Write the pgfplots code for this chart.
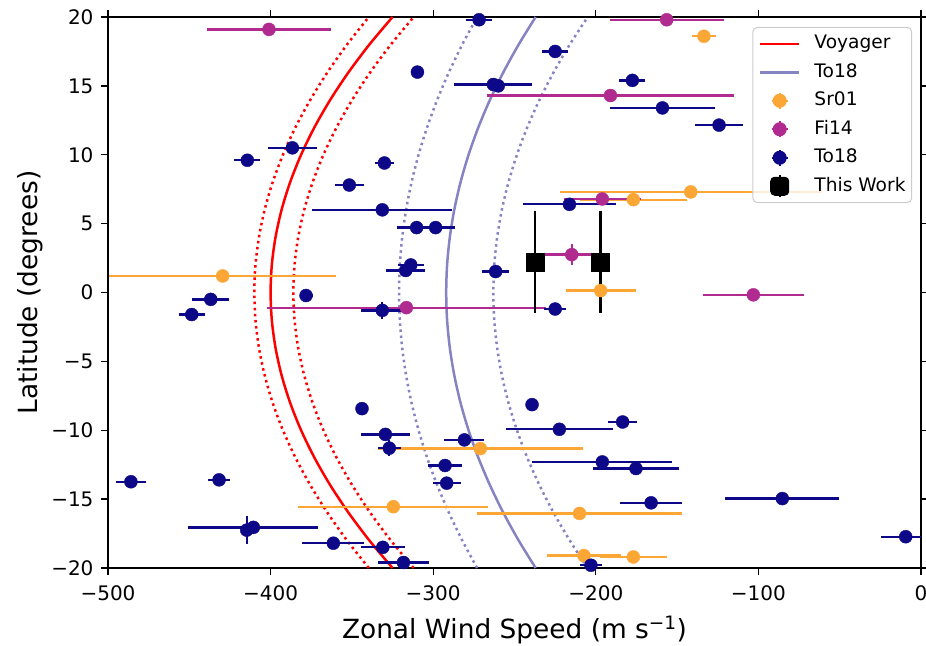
\documentclass[border=0pt]{standalone}
\usepackage{pgfplots}
\pgfplotsset{compat=1.18}
\usepackage{fontspec}
\setmainfont{DejaVu Sans}
\definecolor{cnavy}{HTML}{0D0887}
\definecolor{cmag}{HTML}{B12A90}
\definecolor{corg}{HTML}{FCA636}
\definecolor{clav}{HTML}{8683C3}

\pgfplotstableread{
x y ex ey
-133.5 18.6 7.5 0
-141.6 7.3 80.5 0
-176.9 6.74 33 0
-429.5 1.2 70 0
-197 0.14 21.5 0
-271 -11.33 63 0
-324.5 -15.55 58.5 0
-210 -16.04 63 0
-207.3 -19.1 23 0
-176.9 -19.2 20.5 0
}\srtab

\pgfplotstableread{
x y ex ey
-401 19.1 38 0
-156.4 19.8 35 0.4
-191 14.3 76 0
-196 6.79 23.5 0
-214.8 2.75 17.5 0.78
-103.1 -0.17 31 0
-316.5 -1.1 86 0
}\fitab

\pgfplotstableread{
x y ex ey
-271.8 19.8 8.2 0
-309.7 16.0 4 0.3
-263 15.1 24 0
-260 15.0 0 0
-225 17.5 8 0
-177.5 15.4 8 0
-159 13.4 32.5 0
-124.2 12.15 15 0
-386.6 10.5 15.3 0
-414.3 9.6 8 0
-330 9.4 6 0.3
-351.6 7.8 9 0
-331.3 6.0 43 0
-310.2 4.71 12 0
-298.5 4.71 12 0
-313.8 2.0 8 0
-316.9 1.6 12 0
-261.6 1.52 8.5 0.2
-216.2 6.4 28.5 0
-436.8 -0.5 11.5 0
-448.5 -1.6 8 0.3
-378.2 -0.22 4 0
-331.3 -1.3 13 0.6
-225 -1.2 6.7 0
-343.8 -8.43 0 0
-329.4 -10.3 15 0
-327 -11.3 7 0.6
-280.8 -10.7 12.3 0
-292.7 -12.56 10.5 0
-291.7 -13.84 8.7 0.4
-485.9 -13.74 9 0
-431.7 -13.6 7 0
-414.7 -17.25 3 1.0
-410.6 -17.05 40 0
-361.4 -18.2 19 0
-331 -18.5 13.5 0
-318.3 -19.6 15.7 0
-239.2 -8.14 0 0
-222.4 -9.93 33 0
-183.5 -9.4 9 0
-196 -12.3 43 0
-175.3 -12.78 26.6 0
-166 -15.27 19 0
-85.3 -14.96 35 0
-9.4 -17.73 15 0.4
-203 -19.8 7 0
}\totab

\pgfplotstableread{
x y ex ey
-237.4 2.2 0 3.7
-197 2.2 0 3.7
}\twtab

\pgfplotsset{
  lineleg/.style={legend image code/.code={\path[draw=none, fill=none] (0pt,-4pt) rectangle (39pt,4pt); \draw[##1] (0pt,0pt) -- (39pt,0pt);}},
  ptleg/.style={legend image code/.code={%
     \path[draw=none, fill=none] (0pt,-4pt) rectangle (39pt,4pt);
     \draw[overlay, #1, line width=2.2pt, draw opacity=1] (19.5pt,-8pt) -- (19.5pt,8pt) (11.5pt,0pt) -- (27.5pt,0pt);
     \fill[overlay, #1, fill opacity=1] (19.5pt,0pt) circle (6.5pt);}},
  sqleg/.style={legend image code/.code={%
     \path[draw=none, fill=none] (0pt,-4pt) rectangle (39pt,4pt);
     \draw[overlay, black, line width=2.2pt, draw opacity=1] (19.5pt,-11pt) -- (19.5pt,11pt);
     \fill[overlay, black, fill opacity=1] (10.5pt,-9pt) rectangle (28.5pt,9pt);}},
}

\begin{document}
\begin{tikzpicture}
\path[use as bounding box] (-108pt,-77pt) rectangle (818pt,568pt);
\begin{axis}[
 scale only axis, width=813pt, height=551pt,
 xmin=-500, xmax=0, ymin=-20, ymax=20,
 xtick={-500,-400,-300,-200,-100,0},
 xticklabels={−500,−400,−300,−200,−100,0},
 ytick={-20,-15,-10,-5,0,5,10,15,20},
 yticklabels={−20,−15,−10,−5,0,5,10,15,20},
 tick align=outside, major tick length=7pt,
 tick style={black, line width=1.3pt},
 axis line style={line width=1.3pt},
 tick label style={font=\fontsize{20}{24}\selectfont},
 xticklabel style={yshift=-7pt},
 yticklabel style={xshift=-4pt},
 label style={font=\fontsize{26.4}{30}\selectfont},
 xlabel={Zonal Wind Speed (m s\textsuperscript{−1})},
 ylabel={Latitude (degrees)},
 xlabel style={at={(axis description cs:0.5,-0.1125)}, anchor=center},
 ylabel style={at={(axis description cs:-0.0959,0.5)}, anchor=center},
 legend cell align=left,
 legend style={at={(axis description cs:1,1)}, anchor=north east, xshift=-9pt, yshift=-10pt,
   draw=black!20, line width=1pt, rounded corners=4pt, fill=white, fill opacity=0.8, text opacity=1,
   font=\fontsize{18.6}{22}\selectfont, inner xsep=6pt, inner ysep=7pt, row sep=10pt,
   nodes={inner sep=0pt, text height=14pt, text depth=4.5pt},
   /tikz/every odd column/.append style={column sep=14pt},
   /tikz/every even column/.append style={column sep=4pt}},
 error bars/error mark=none,
]
% Voyager
\addplot[red, line width=2.5pt, smooth, lineleg] coordinates {(-325,-20) (-339.25,-18) (-352,-16) (-363.25,-14) (-373,-12) (-381.25,-10) (-388,-8) (-393.25,-6) (-397,-4) (-399.25,-2) (-400,0) (-399.25,2) (-397,4) (-393.25,6) (-388,8) (-381.25,10) (-373,12) (-363.25,14) (-352,16) (-339.25,18) (-325,20)};
\addlegendentry{Voyager}
\addplot[red, line width=2.5pt, smooth, dash pattern=on 2.5pt off 3.6pt, forget plot] coordinates {(-339.6,-20) (-352.98,-18) (-364.94,-16) (-375.5,-14) (-384.66,-12) (-392.4,-10) (-398.74,-8) (-403.66,-6) (-407.18,-4) (-409.3,-2) (-410,0) (-409.3,2) (-407.18,4) (-403.66,6) (-398.74,8) (-392.4,10) (-384.66,12) (-375.5,14) (-364.94,16) (-352.98,18) (-339.6,20)};
\addplot[red, line width=2.5pt, smooth, dash pattern=on 2.5pt off 3.6pt, forget plot] coordinates {(-312,-20) (-326.06,-18) (-338.64,-16) (-349.74,-14) (-359.36,-12) (-367.5,-10) (-374.16,-8) (-379.34,-6) (-383.04,-4) (-385.26,-2) (-386,0) (-385.26,2) (-383.04,4) (-379.34,6) (-374.16,8) (-367.5,10) (-359.36,12) (-349.74,14) (-338.64,16) (-326.06,18) (-312,20)};
% To18 model
\addplot[clav, line width=2.5pt, smooth, lineleg] coordinates {(-237,-20) (-247.45,-18) (-256.8,-16) (-265.05,-14) (-272.2,-12) (-278.25,-10) (-283.2,-8) (-287.05,-6) (-289.8,-4) (-291.45,-2) (-292,0) (-291.45,2) (-289.8,4) (-287.05,6) (-283.2,8) (-278.25,10) (-272.2,12) (-265.05,14) (-256.8,16) (-247.45,18) (-237,20)};
\addlegendentry{To18}
\addplot[clav, line width=2.5pt, smooth, dash pattern=on 2.5pt off 3.6pt, forget plot] coordinates {(-273,-20) (-282.12,-18) (-290.28,-16) (-297.48,-14) (-303.72,-12) (-309,-10) (-313.32,-8) (-316.68,-6) (-319.08,-4) (-320.52,-2) (-321,0) (-320.52,2) (-319.08,4) (-316.68,6) (-313.32,8) (-309,10) (-303.72,12) (-297.48,14) (-290.28,16) (-282.12,18) (-273,20)};
\addplot[clav, line width=2.5pt, smooth, dash pattern=on 2.5pt off 3.6pt, forget plot] coordinates {(-205,-20) (-216.02,-18) (-225.88,-16) (-234.58,-14) (-242.12,-12) (-248.5,-10) (-253.72,-8) (-257.78,-6) (-260.68,-4) (-262.42,-2) (-263,0) (-262.42,2) (-260.68,4) (-257.78,6) (-253.72,8) (-248.5,10) (-242.12,12) (-234.58,14) (-225.88,16) (-216.02,18) (-205,20)};
% Sr01
\addplot[corg, only marks, mark=*, mark size=6.5pt, mark options={fill=corg, draw=corg}, ptleg=corg,
  error bars/.cd, x dir=both, x explicit, y dir=both, y explicit,
  error bar style={line width=2.3pt, corg}]
  table[x=x, y=y, x error=ex, y error=ey] {\srtab};
\addlegendentry{Sr01}
% Fi14
\addplot[cmag, only marks, mark=*, mark size=6.5pt, mark options={fill=cmag, draw=cmag}, ptleg=cmag,
  error bars/.cd, x dir=both, x explicit, y dir=both, y explicit,
  error bar style={line width=2.3pt, cmag}]
  table[x=x, y=y, x error=ex, y error=ey] {\fitab};
\addlegendentry{Fi14}
% To18 data
\addplot[cnavy, only marks, mark=*, mark size=6.5pt, mark options={fill=cnavy, draw=cnavy}, ptleg=cnavy,
  error bars/.cd, x dir=both, x explicit, y dir=both, y explicit,
  error bar style={line width=2.3pt, cnavy}]
  table[x=x, y=y, x error=ex, y error=ey] {\totab};
\addlegendentry{To18}
% This work
\addplot[black, only marks, mark=square*, mark size=9pt, mark options={fill=black, draw=black}, sqleg,
  error bars/.cd, x dir=both, x explicit, y dir=both, y explicit,
  error bar style={line width=2.5pt, black}]
  table[x=x, y=y, x error=ex, y error=ey] {\twtab};
\addlegendentry{This Work}
\end{axis}
\end{tikzpicture}
\end{document}
